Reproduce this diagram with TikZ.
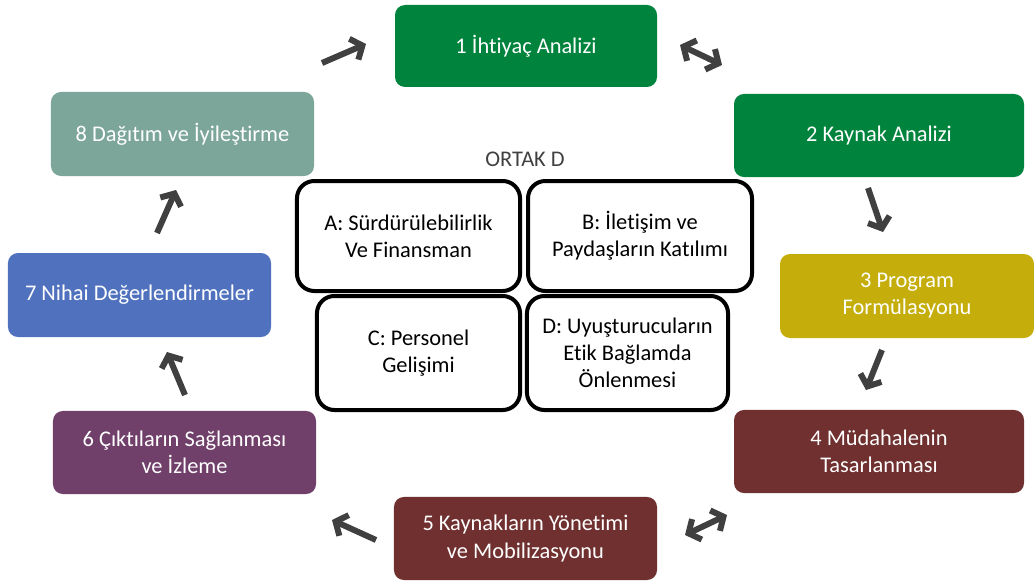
\documentclass[tikz,border=0pt]{standalone}
\usepackage{fontspec}
\setmainfont{Carlito}[Ligatures=NoCommon]
\usetikzlibrary{arrows.meta}
\definecolor{ihtiyac}{RGB}{0,132,61}
\definecolor{kaynak}{RGB}{0,132,61}
\definecolor{program}{RGB}{197,174,12}
\definecolor{mudahale}{RGB}{112,48,48}
\definecolor{cikti}{RGB}{112,64,106}
\definecolor{nihai}{RGB}{80,114,190}
\definecolor{dagitim}{RGB}{124,166,153}
\definecolor{okgri}{RGB}{64,64,64}
\tikzset{
  stage/.style={rounded corners=7.5pt, text=white, align=center, inner sep=0pt,
    font=\fontsize{16.8}{20.3}\selectfont},
  core/.style={draw=black, line width=3pt, rounded corners=13pt, align=center, inner sep=0pt,
    font=\fontsize{16.8}{20.3}\selectfont},
  ok/.style={draw=okgri, line width=4.5pt, -{Straight Barb[length=7pt,width=17pt]}},
  ciftok/.style={ok, {Straight Barb[length=7pt,width=17pt]}-{Straight Barb[length=7pt,width=17pt]}}
}
\begin{document}
\begin{tikzpicture}[x=0.75pt,y=-0.75pt]
  \useasboundingbox (0,0) rectangle (1034,581);
  % asamalar
  \node[stage, fill=ihtiyac, minimum width=196.5pt, minimum height=61.5pt] (n1) at (526,46) {1 İhtiyaç Analizi};
  \node[stage, fill=kaynak, minimum width=217.5pt, minimum height=62.3pt] (n2) at (879,135.5) {2 Kaynak Analizi};
  \node[stage, fill=program, minimum width=190.5pt, minimum height=63pt] (n3) at (907,296) {3 Program\\Formülasyonu};
  \node[stage, fill=mudahale, minimum width=217.5pt, minimum height=62.3pt] (n4) at (879,451.5) {4 Müdahalenin\\Tasarlanması};
  \node[stage, fill=mudahale, minimum width=197.3pt, minimum height=62.3pt] (n5) at (525.5,538.5) {5 Kaynakların Yönetimi\\ve Mobilizasyonu};
  \node[stage, fill=cikti, minimum width=197.3pt, minimum height=62.3pt] (n6) at (184.5,452.5) {6 Çıktıların Sağlanması\\ve İzleme};
  \node[stage, fill=nihai, minimum width=197.3pt, minimum height=63pt] (n7) at (139.5,295) {7 Nihai Değerlendirmeler};
  \node[stage, fill=dagitim, minimum width=197.3pt, minimum height=63pt] (n8) at (182.5,134) {8 Dağıtım ve İyileştirme};
  % ortak bilesenler
  \node[text=okgri, font=\fontsize{16.8}{20.3}\selectfont] (ortak) at (525,159) {ORTAK D};
  \node[core, minimum width=167.3pt, minimum height=82.5pt] (ca) at (408.5,236) {A: Sürdürülebilirlik\\Ve Finansman};
  \node[core, minimum width=168pt, minimum height=82.5pt] (cb) at (640,236) {B: İletişim ve\\Paydaşların Katılımı};
  \node[core, minimum width=152.3pt, minimum height=85.5pt] (cc) at (418.5,353) {C: Personel\\Gelişimi};
  \node[core, minimum width=150.8pt, minimum height=85.5pt] (cd) at (627.5,353) {D: Uyuşturucuların\\Etik Bağlamda\\Önlenmesi};
  % oklar
  \coordinate (o81a) at (322,63);  \coordinate (o81b) at (366,44);
  \coordinate (o12a) at (680,45);  \coordinate (o12b) at (722,65);
  \coordinate (o23a) at (868,188); \coordinate (o23b) at (883,232);
  \coordinate (o34a) at (882,350); \coordinate (o34b) at (866,390);
  \coordinate (o45a) at (727,515); \coordinate (o45b) at (685,535);
  \coordinate (o56a) at (376,540); \coordinate (o56b) at (332,520);
  \coordinate (o67a) at (185,395); \coordinate (o67b) at (167,352);
  \coordinate (o78a) at (157,233); \coordinate (o78b) at (176,190);
  \draw[ok] (o81a) -- (o81b);
  \draw[ciftok] (o12a) -- (o12b);
  \draw[ok] (o23a) -- (o23b);
  \draw[ok] (o34a) -- (o34b);
  \draw[ciftok] (o45a) -- (o45b);
  \draw[ok] (o56a) -- (o56b);
  \draw[ok] (o67a) -- (o67b);
  \draw[ok] (o78a) -- (o78b);
\end{tikzpicture}
\end{document}
